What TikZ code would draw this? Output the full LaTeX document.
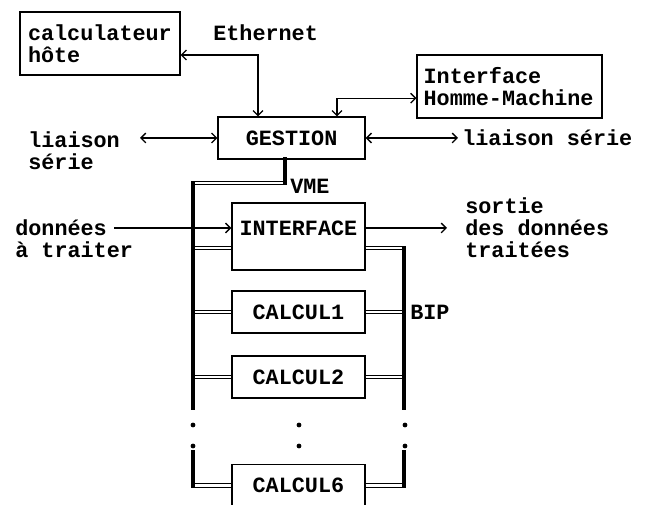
\documentclass[tikz,border=0pt]{standalone}
\usepackage{fontspec}
\setmonofont{Liberation Mono}
\usetikzlibrary{arrows.meta, calc}
\newcommand{\boxfont}{\ttfamily\bfseries\fontsize{15.5}{15.5}\selectfont}
\tikzset{
  box/.style={rectangle, draw, line width=0.9pt, font=\boxfont, inner sep=0pt},
  lbl/.style={font=\boxfont, inner sep=0pt, align=left},
  arrow/.style={-{Straight Barb[length=3.5pt,width=7pt]}, line width=0.9pt},
  link/.style={{Straight Barb[length=3.5pt,width=7pt]}-{Straight Barb[length=3.5pt,width=7pt]}, line width=0.9pt},
  bus/.style={line width=3pt, line cap=rect},
  tap/.style={double, double distance=1.6pt, line width=0.8pt}
}

\begin{document}
\begin{tikzpicture}
  \clip (0,0) rectangle (16.225,12.625);

  % Boxes
  \node[box, minimum width=4cm, minimum height=1.575cm, text width=3.6cm, align=left] (hote) at (2.5,11.54) {calculateur\\hôte};
  \node[box, minimum width=4.625cm, minimum height=1.575cm, text width=4.3cm, align=left] (ihm) at (12.74,10.46) {Interface\\Homme-Machine};
  \node[box, minimum width=3.675cm, minimum height=1.05cm] (gestion) at (7.29,9.175) {GESTION};
  \node[box, minimum width=3.325cm, minimum height=1.675cm, text depth=0.42cm] (interface) at (7.46,6.71) {INTERFACE};
  \foreach \n/\y in {1/4.825, 2/3.2, 6/0.49}
    \node[box, minimum width=3.325cm, minimum height=1.05cm] (calc\n) at (7.46,\y) {CALCUL\n};

  % Labels
  \node[lbl, anchor=west] (eth) at (5.325,11.8) {Ethernet};
  \node[lbl, anchor=west] (lsl) at (0.7,8.85) {liaison\\série};
  \node[lbl, anchor=west] (lsr) at (11.55,9.175) {liaison série};
  \node[lbl, anchor=west] (din_l) at (0.375,6.65) {données\\à traiter};
  \node[lbl, anchor=west] (dout_l) at (11.625,6.925) {sortie\\des données\\traitées};
  \node[lbl, anchor=west] (vme_l) at (7.25,7.975) {VME};
  \node[lbl, anchor=west] (bip) at (10.25,4.825) {BIP};

  % Bus points
  \coordinate (vme) at (7.125,8.65);
  \coordinate (lbus) at (4.825,8.05);
  \coordinate (rbus) at (10.1,6.425);
  \coordinate (brk1) at (0,2.425);
  \coordinate (brk2) at (0,1.325);

  % Links
  \draw[link] ($(gestion.north)+(-0.84,0)$) |- ($(hote.east)+(0,-0.29)$);
  \draw[link] ($(gestion.north)+(1.135,0)$) |- ($(ihm.west)+(0,-0.29)$);
  \coordinate (lsl_end) at (3.5,9.175);
  \draw[link] (lsl_end) -- (gestion.west);
  \coordinate (lsr_end) at (11.45,9.175);
  \draw[link] (gestion.east) -- (lsr_end);
  \coordinate (din) at (2.85,6.925);
  \draw[arrow] (din) -- (din -| interface.west);
  \coordinate (dout) at (11.175,6.925);
  \draw[arrow] (interface.east |- dout) -- (dout);

  % Taps on VME and BIP
  \draw[tap] (lbus |- rbus) -- (interface.west |- rbus);
  \draw[tap] (interface.east |- rbus) -- (rbus);
  \foreach \n in {1,2,6} {
    \draw[tap] (calc\n.west -| lbus) -- (calc\n.west);
    \draw[tap] (calc\n.east) -- (calc\n.east -| rbus);
  }
  \draw[tap] (vme |- lbus) -- (lbus);

  % Buses
  \draw[bus] (vme) -- (vme |- lbus);
  \draw[bus] (lbus) -- (lbus |- brk1);
  \draw[bus] (lbus |- brk2) -- (lbus |- calc6.west);
  \draw[bus] (rbus) -- (rbus |- brk1);
  \draw[bus] (rbus |- brk2) -- (rbus |- calc6.east);
  \foreach \x in {4.825,7.475,10.125}
    \foreach \y in {2.0,1.475}
      \fill (\x,\y) circle (0.06);
\end{tikzpicture}
\end{document}
